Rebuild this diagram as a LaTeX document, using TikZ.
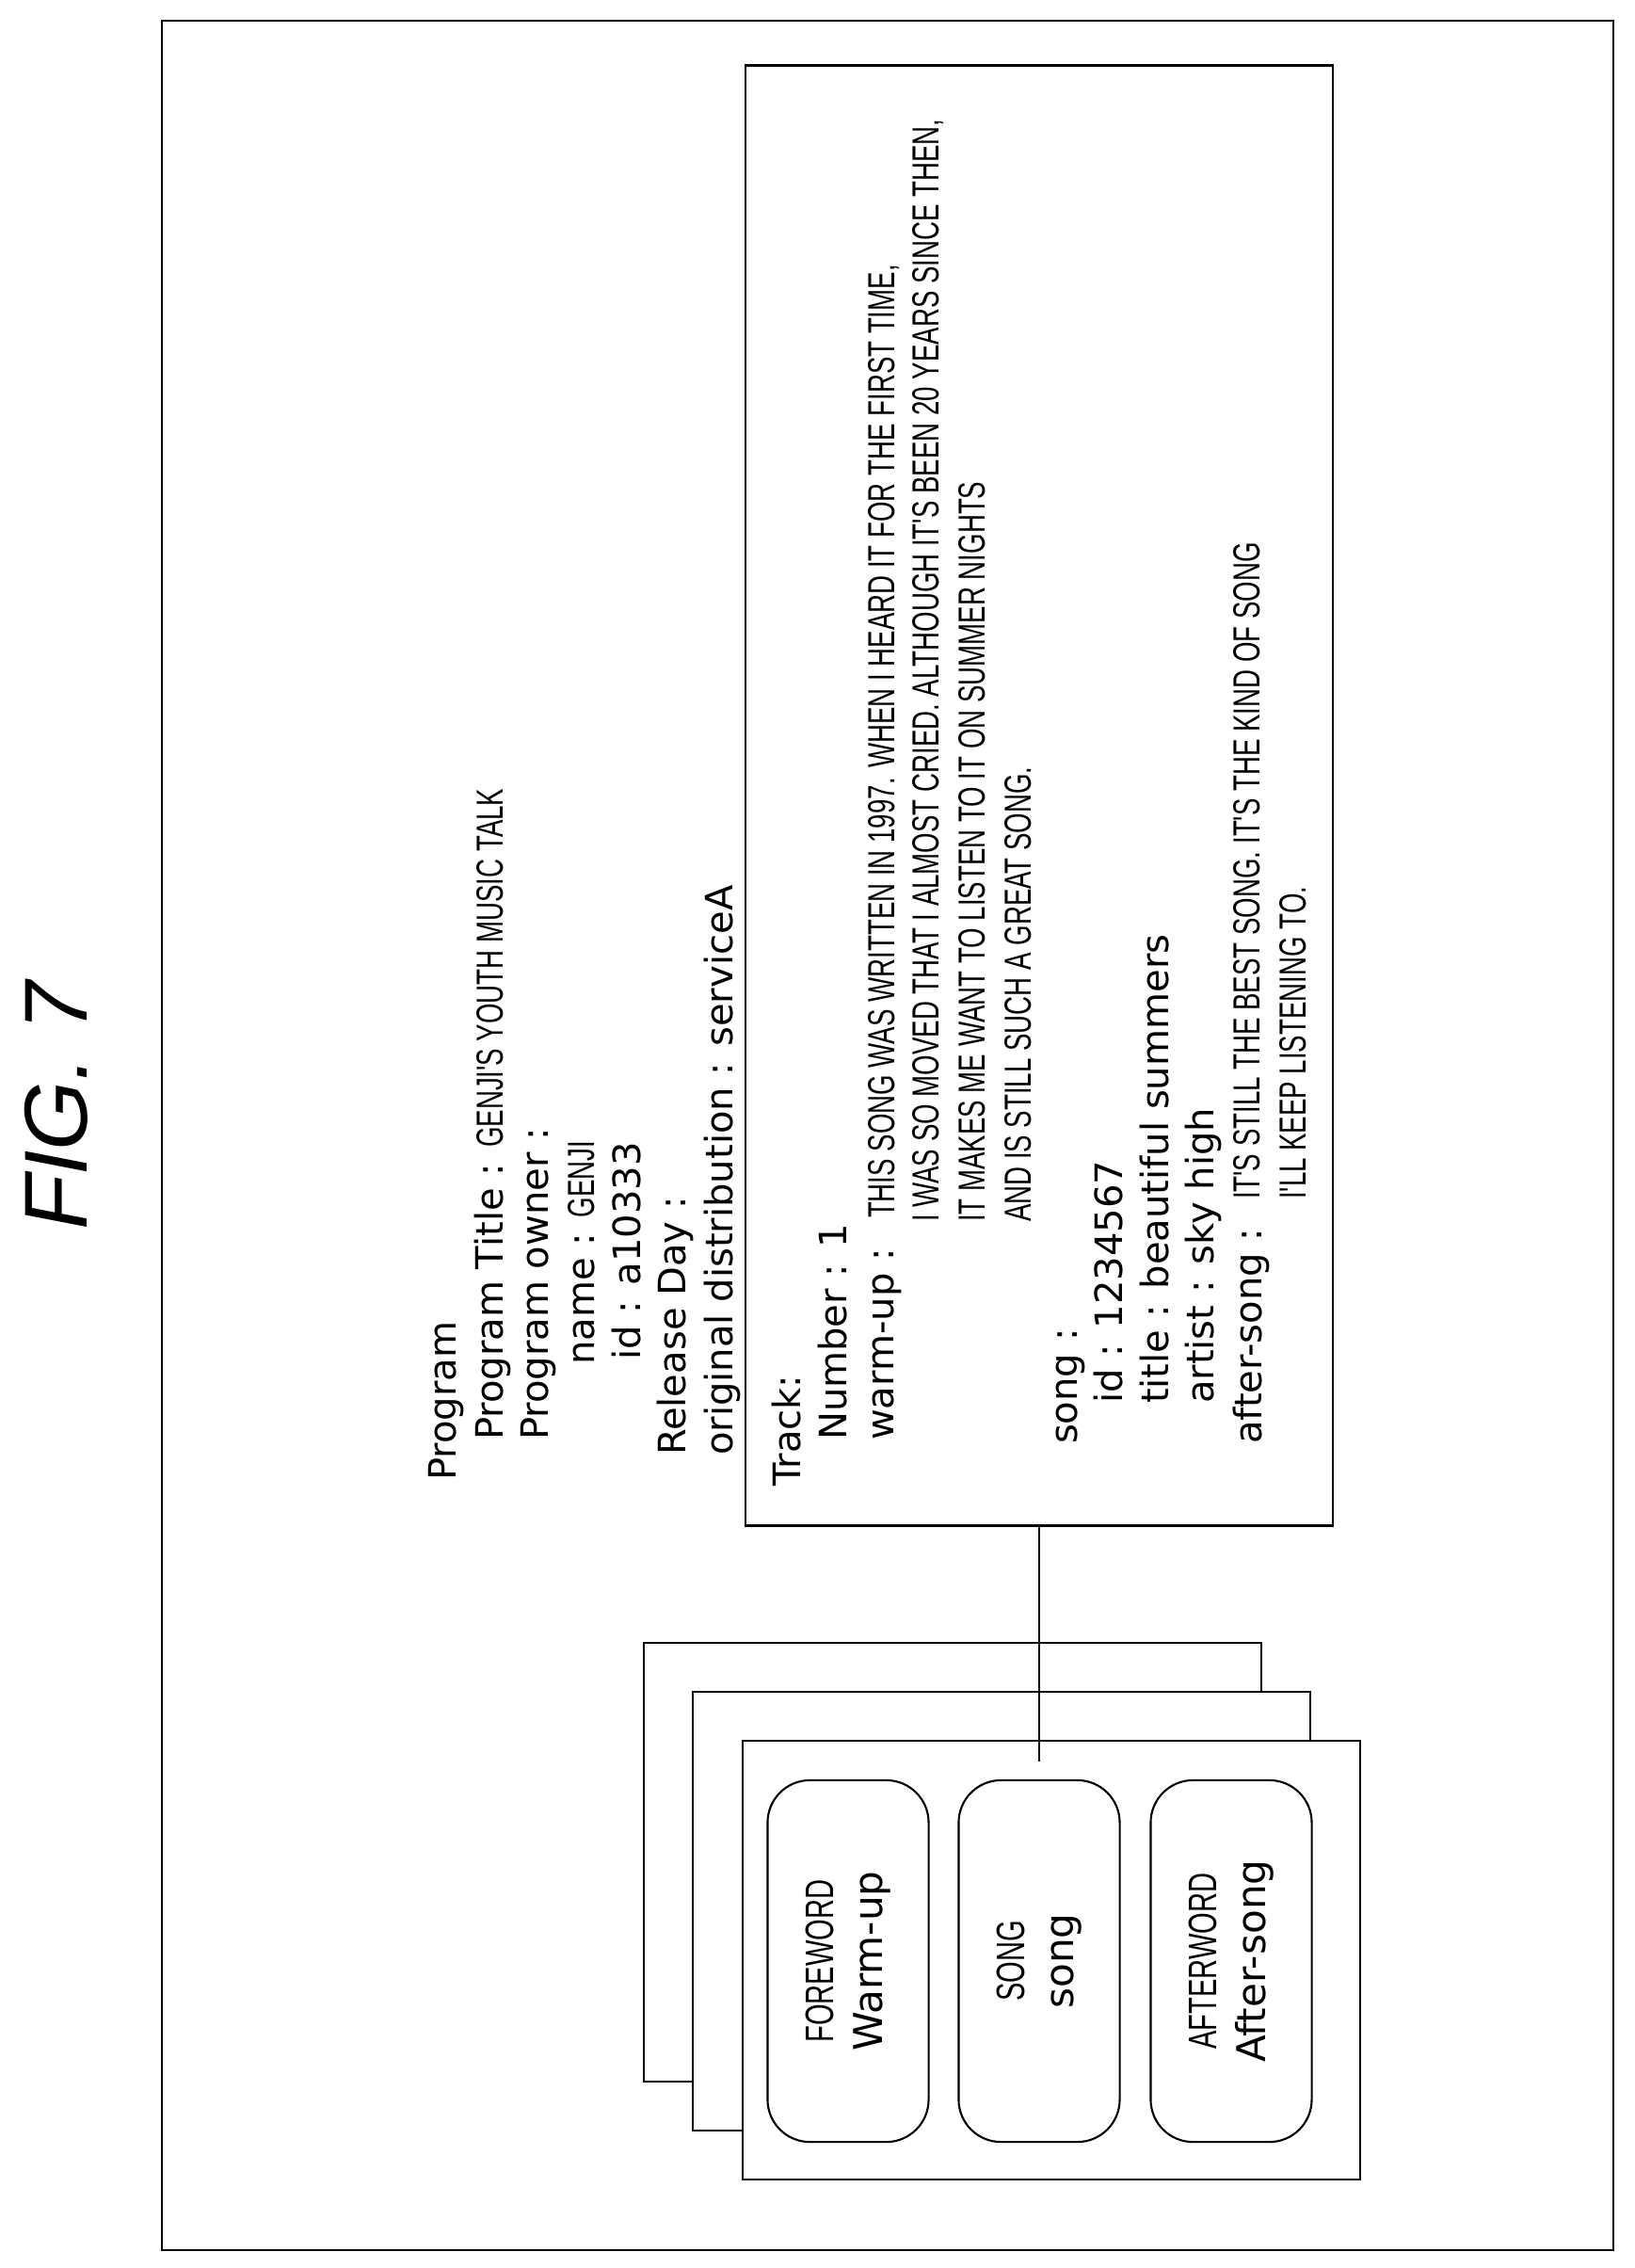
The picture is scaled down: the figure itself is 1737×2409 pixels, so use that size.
\documentclass[tikz,border=0pt]{standalone}
\usepackage{fontspec}
\newfontfamily\lblfont{DejaVu Sans}
\newfontfamily\capfont[FakeStretch=0.69]{Liberation Sans}
\newfontfamily\figfont{Liberation Sans}
\usetikzlibrary{positioning}

\begin{document}
\begin{tikzpicture}[x=0.01cm,y=-0.01cm,line width=0.6pt,
   lbl/.style={font=\lblfont\fontsize{11.4}{14}\selectfont,rotate=90,anchor=base west,inner sep=0},
   caps/.style={font=\capfont\fontsize{11.4}{14}\selectfont,rotate=90,anchor=base west,inner sep=0},
   card/.style={draw,fill=white,minimum width=6.55cm,minimum height=4.65cm,inner sep=0},
   part/.style={draw,rounded corners=0.45cm,minimum width=3.84cm,minimum height=1.71cm,inner sep=0,
                rotate=90,align=center,font=\lblfont\fontsize{12}{14.8}\selectfont}]
   \useasboundingbox (0,0) rectangle (1737,2409);
   \draw (172,22) rectangle (1714,2390);
   \node[rotate=90,anchor=base west,inner sep=0,font=\figfont\itshape\fontsize{27}{30}\selectfont] (fig) at (92,1308) {FIG. 7};
   % program header
   \node[lbl] (prog) at (484,1574) {Program};
   \node[lbl] (ptitle) at (534,1531) {Program Title : {\capfont GENJI'S YOUTH MUSIC TALK}};
   \node[lbl] (powner) at (582,1531) {Program owner :};
   \node[lbl] (oname) at (631,1451) {name : {\capfont GENJI}};
   \node[lbl] (oid) at (680,1446) {id : a10333};
   \node[lbl] (rday) at (728,1547) {Release Day :};
   \node[lbl] (orig) at (778,1547) {original distribution : serviceA};
   % track
   \node[draw,minimum width=6.24cm,minimum height=15.5cm,inner sep=0] (track) at (1104,845) {};
   \node[lbl] (tr) at (850,1580) {Track:};
   \node[lbl] (num) at (899,1531) {Number : 1};
   \node[lbl] (wu) at (949,1531) {warm-up :};
   \node[caps] (wu1) at (950,1295) {THIS SONG WAS WRITTEN IN 1997. WHEN I HEARD IT FOR THE FIRST TIME,};
   \node[caps] (wu2) at (997,1299) {I WAS SO MOVED THAT I ALMOST CRIED. ALTHOUGH IT'S BEEN 20 YEARS SINCE THEN,};
   \node[caps] (wu3) at (1046,1299) {IT MAKES ME WANT TO LISTEN TO IT ON SUMMER NIGHTS};
   \node[caps] (wu4) at (1095,1299) {AND IS STILL SUCH A GREAT SONG.};
   \node[lbl] (sg) at (1144,1535) {song :};
   \node[lbl] (sid) at (1192,1492) {id : 1234567};
   \node[lbl] (stitle) at (1241,1492) {title : beautiful summers};
   \node[lbl] (sartist) at (1289,1492) {artist : sky high};
   \node[lbl] (as) at (1340,1535) {after-song :};
   \node[caps] (as1) at (1338,1275) {IT'S STILL THE BEST SONG. IT'S THE KIND OF SONG};
   \node[caps] (as2) at (1387,1275) {I'LL KEEP LISTENING TO.};
   % stacked cards
   \node[card] (back) at (1012,1978) {};
   \node[card] (mid) at (1064,2030) {};
   \node[card] (front) at (1117,2082) {};
   \node[part] (fw) at (901,2083) {{\capfont FOREWORD}\\Warm-up};
   \node[part] (sn) at (1104,2083) {{\capfont SONG}\\song};
   \node[part] (aw) at (1308,2083) {{\capfont AFTERWORD}\\After-song};
   \coordinate (tip) at (1104,1871);
   \draw (track.south) -- (tip);
\end{tikzpicture}
\end{document}
